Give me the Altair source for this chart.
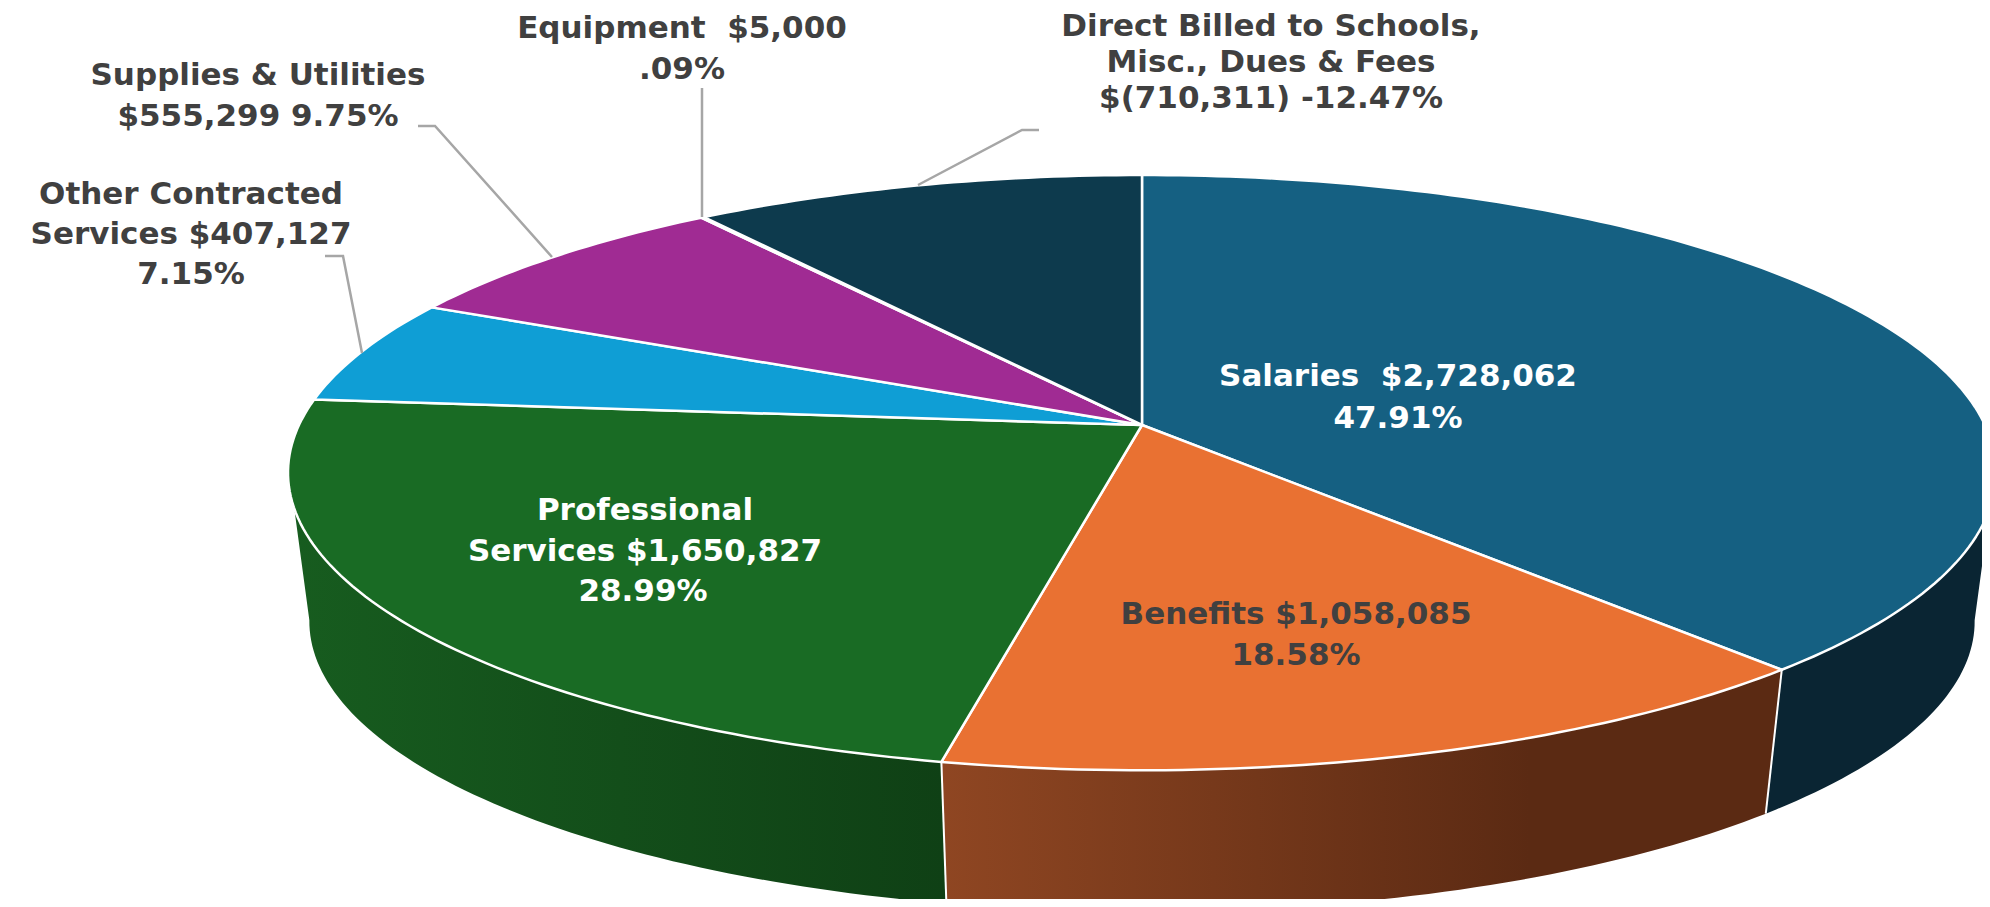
import math
import altair as alt
import pandas as pd

# ---- chart values ----
categories = ["Salaries", "Benefits", "Professional Services", "Other Contracted Services",
              "Supplies & Utilities", "Equipment", "Direct Billed to Schools, Misc., Dues & Fees"]
amounts = [2728062, 1058085, 1650827, 407127, 555299, 5000, -710311]
top_colors = ["#156082", "#E97132", "#196B24", "#0F9ED5", "#A02B93", "#4EA72E", "#0D3A4D"]

# ---- labels: one row per text line ----
label_lines = ["Salaries\u00a0 $2,728,062", "47.91%",
               "Benefits $1,058,085", "18.58%",
               "Professional", "Services $1,650,827", "28.99%",
               "Other Contracted", "Services $407,127", "7.15%",
               "Supplies & Utilities", "$555,299 9.75%",
               "Equipment\u00a0 $5,000", ".09%",
               "Direct Billed to Schools,", "Misc., Dues & Fees", "$(710,311) -12.47%"]
label_x = [1398, 1398, 1296, 1296, 645, 645, 643, 191, 191, 191, 258, 258, 682, 682, 1271, 1271, 1271]
label_y = [377, 419, 615, 656, 511, 552, 592, 195, 235, 275, 76, 117, 29, 70, 27, 63, 99]
label_col = ["#FFFFFF", "#FFFFFF", "#404040", "#404040", "#FFFFFF", "#FFFFFF", "#FFFFFF"] + ["#404040"] * 10

# ---- leader lines ----
leader_x = [[325, 343, 362], [418, 435, 552], [702, 702], [918, 1022, 1039]]
leader_y = [[256, 256, 353], [126, 126, 257], [88, 217], [185, 130, 130]]

# ---- the tilted disc ----
CX, CY, RX, RY, K = 1142, 425, 843, 290, 0.16
SHRINK, DROP = 0.975, 150
total = sum(abs(v) for v in amounts)
edges = [0.0]
for v in amounts:
    edges.append(edges[-1] + abs(v) / total * 360)


def rim(deg, low=False):
    a = math.radians(deg)
    X, Y = math.sin(a), math.cos(a)
    w = 1 + K * Y
    x, y = CX + RX * X / w, CY - RY * Y / w
    if low:
        x, y = CX + SHRINK * (x - CX), CY + DROP + SHRINK * (y - CY)
    return x, y


def arc(a0, a1, low=False):
    n = max(2, int(abs(a1 - a0)) + 2)
    return [rim(a0 + (a1 - a0) * i / (n - 1), low) for i in range(n)]


X_S = alt.Scale(domain=[8, 1982], nice=False, zero=False)
Y_S = alt.Scale(domain=[8, 899], nice=False, zero=False, reverse=True)
xe = alt.X("x:Q", scale=X_S, axis=None)
ye = alt.Y("y:Q", scale=Y_S, axis=None)


def poly(points, **mark):
    df = pd.DataFrame(points, columns=["x", "y"])
    df["i"] = range(len(df))
    return alt.Chart(df).mark_line(interpolate="linear-closed", clip=True, **mark).encode(
        x=xe, y=ye, order=alt.Order("i:Q"))


def seg(points, color, width):
    df = pd.DataFrame(points, columns=["x", "y"])
    df["i"] = range(len(df))
    return alt.Chart(df).mark_line(stroke=color, strokeWidth=width, clip=True).encode(
        x=xe, y=ye, order=alt.Order("i:Q"))


def grad(stops):
    return alt.Gradient(gradient="linear", x1=0, x2=1, y1=0, y2=0,
                        stops=[alt.GradientStop(color=c, offset=o) for o, c in stops])


layers = []
# side walls: (top rim start, top rim end, low rim start, low rim end, fill)
walls = [(106, edges[1], 99, edges[1], "#0A2533"),
         (edges[1], edges[2], edges[1], edges[2], grad([(0, "#8F4622"), (0.7, "#5B2A13"), (1, "#5B2A13")])),
         (edges[2], 254, edges[2], 261, grad([(0, "#175C1F"), (1, "#0F4015")]))]
for a0, a1, b0, b1, fill in walls:
    layers.append(poly(arc(a0, a1) + arc(b1, b0, True), fill=fill, strokeWidth=0))
for e in edges[1:3]:
    layers.append(seg([rim(e), rim(e, True)], "#FFFFFF", 2))
# top faces
for i, c in enumerate(top_colors):
    layers.append(poly([(CX, CY)] + arc(edges[i], edges[i + 1]), fill=c, stroke="#FFFFFF",
                       strokeWidth=2.5, strokeJoin="round"))
# leader lines
for lx, ly in zip(leader_x, leader_y):
    layers.append(seg(list(zip(lx, ly)), "#A6A6A6", 2.5))
# labels
labels = pd.DataFrame({"t": label_lines, "x": label_x, "y": label_y, "c": label_col})
layers.append(alt.Chart(labels).mark_text(font="DejaVu Sans", fontWeight="bold", fontSize=31,
                                          align="center", baseline="middle").encode(
    x=xe, y=ye, text="t:N", color=alt.Color("c:N", scale=None)))

chart = alt.layer(*layers).properties(width=1974, height=891, padding=0,
                                      autosize=alt.AutoSizeParams(type="none")
                                      ).configure_view(strokeWidth=0)
chart.save("out.html", embed_options={"renderer": "svg", "actions": False})
